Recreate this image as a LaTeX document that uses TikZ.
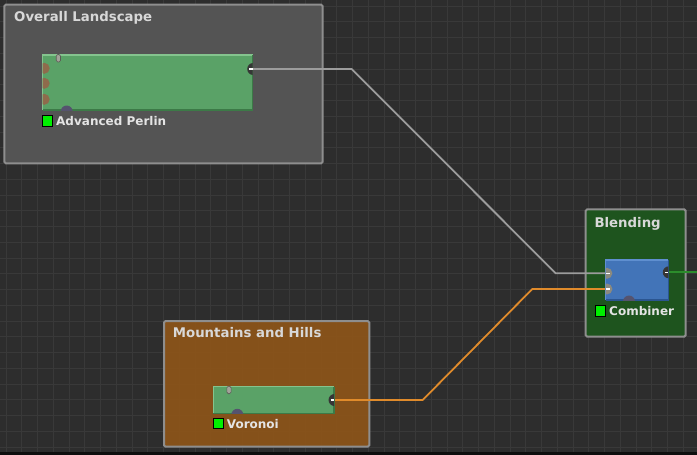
\documentclass[tikz,border=0pt]{standalone}
\usepackage{fontspec}
\setmainfont{DejaVu Sans}
\usetikzlibrary{calc}
\definecolor{bg}{HTML}{2D2D2D}
\definecolor{gridc}{HTML}{393939}
\definecolor{grpborder}{HTML}{8E8E8E}
\definecolor{grpgray}{HTML}{575757}
\definecolor{grpgreen}{HTML}{1D571D}
\definecolor{grporange}{HTML}{8C5419}
\definecolor{modgreen}{HTML}{5AA267}
\definecolor{modgreenlt}{HTML}{84C48E}
\definecolor{modgreendk}{HTML}{3C7A47}
\definecolor{modblue}{HTML}{4274B8}
\definecolor{modbluelt}{HTML}{5F8FD0}
\definecolor{modbluedk}{HTML}{2B5590}
\definecolor{portbrown}{HTML}{8E6B4C}
\definecolor{portgray}{HTML}{8C8A7E}
\definecolor{portdark}{HTML}{363636}
\definecolor{portpurple}{HTML}{55536E}
\definecolor{porttab}{HTML}{A3A39A}
\definecolor{wiregray}{HTML}{9C9C9C}
\definecolor{wireorange}{HTML}{E08B2B}
\definecolor{wiregreen}{HTML}{2C8C2C}
\definecolor{titletext}{HTML}{D8D8D8}
\definecolor{labeltext}{HTML}{E4E4E4}
\definecolor{flaggreen}{HTML}{00F000}
\tikzset{
  gridline/.style={draw=gridc, line width=1pt},
  groupbox/.style={draw=grpborder, line width=2pt, rounded corners=1.5pt, fill opacity=0.93, inner sep=0pt, outer sep=0pt, anchor=north west},
  grouptitle/.style={anchor=base west, inner sep=0pt, text=titletext, font=\fontsize{13.3}{15}\selectfont\bfseries},
  modulebox/.style={inner sep=0pt, outer sep=0pt, anchor=north west},
  modlabel/.style={anchor=base west, inner sep=0pt, text=labeltext, font=\fontsize{12}{14}\selectfont\bfseries},
  flagbox/.style={draw=black, line width=1pt, fill=flaggreen, minimum width=10.5pt, minimum height=10.5pt, inner sep=0pt},
  wire/.style={line width=1.8pt, line join=miter},
  tabport/.style={fill=porttab, draw=black!45!porttab, line width=0.6pt, rounded corners=1.5pt},
}
\begin{document}
\begin{tikzpicture}[x=1pt,y=-1pt]
\useasboundingbox (0,0) rectangle (697,455);
\fill[bg] (0,0) rectangle (697,455);
\foreach \k in {0,...,44} \draw[gridline] ({6+15.75*\k},0) -- ({6+15.75*\k},455);
\foreach \k in {0,...,28} \draw[gridline] (0,{6+15.75*\k}) -- (697,{6+15.75*\k});
\fill[black!70!bg] (0,452) rectangle (697,455);

% groups
\node[groupbox, fill=grpgray, minimum width=318.4pt, minimum height=158.6pt] (landscape) at (4.3,4.7) {};
\node[groupbox, fill=grpgreen, minimum width=100pt, minimum height=127.4pt] (blending) at (585.7,209.3) {};
\node[groupbox, fill=grporange, minimum width=205.3pt, minimum height=125.7pt] (mountains) at (164,321) {};
\node[grouptitle] (landscapetitle) at (14,21.7) {Overall Landscape};
\node[grouptitle] (blendingtitle) at (594.3,227.3) {Blending};
\node[grouptitle] (mountainstitle) at (172.7,337.7) {Mountains and Hills};

% modules
\node[modulebox, fill=modgreen, minimum width=210pt, minimum height=55pt] (perlin) at (42.7,55) {};
\node[modulebox, fill=modgreen, minimum width=120.7pt, minimum height=26.6pt] (voronoi) at (213.3,386.7) {};
\node[modulebox, fill=modblue, minimum width=62.6pt, minimum height=40pt] (combiner) at (605.7,260) {};

% port coordinates
\coordinate (perlinout) at ($(perlin.north east)+(0,14)$);
\coordinate (voronoiout) at ($(voronoi.north east)+(0,13.3)$);
\coordinate (combinerinA) at ($(combiner.north west)+(0,13.3)$);
\coordinate (combinerinB) at ($(combiner.north west)+(0,29)$);
\coordinate (combinerout) at ($(combiner.north east)+(0,12.3)$);
\coordinate (outend) at (697,272.3);

% wires
\draw[wire, wiregray] (perlinout) -- ++(99,0) -- ($(combinerinA)+(-50,0)$) -- (combinerinA);
\draw[wire, wireorange] (voronoiout) -- ++(88.7,0) -- ($(combinerinB)+(-73.4,0)$) -- (combinerinB);
\draw[wire, wiregreen] (combinerout) -- (outend);

% bevels
\foreach \m in {perlin,voronoi} {
  \draw[modgreenlt, line width=1.2pt] (\m.south west) -- (\m.north west) -- (\m.north east);
  \draw[modgreendk, line width=1.5pt] (\m.north east) -- (\m.south east) -- (\m.south west);
}
\draw[modbluelt, line width=1.2pt] (combiner.south west) -- (combiner.north west) -- (combiner.north east);
\draw[modbluedk, line width=1.5pt] (combiner.north east) -- (combiner.south east) -- (combiner.south west);

% ports on perlin
\begin{scope}
\clip (perlin.south west) rectangle (perlin.north east);
\foreach \d in {13.3,28.3,44.3} \fill[portbrown] ($(perlin.north west)+(1.5,\d)$) circle[radius=5.5pt];
\fill[portpurple] ($(perlin.south west)+(24,1.5)$) circle[radius=6pt];
\fill[portdark] ($(perlinout)+(0.5,0)$) circle[radius=6pt];
\end{scope}
\fill[tabport] ($(perlin.north west)+(13.5,-0.5)$) rectangle ($(perlin.north west)+(17.8,7)$);
\draw[white, line width=1.2pt] ($(perlinout)+(-3.5,0)$) -- (perlinout);

% ports on voronoi
\begin{scope}
\clip (voronoi.south west) rectangle (voronoi.north east);
\fill[portpurple] ($(voronoi.south west)+(24,1.5)$) circle[radius=6pt];
\fill[portdark] ($(voronoiout)+(0.5,0)$) circle[radius=6pt];
\end{scope}
\fill[tabport] ($(voronoi.north west)+(13.5,-0.5)$) rectangle ($(voronoi.north west)+(17.8,7)$);
\draw[white, line width=1.2pt] ($(voronoiout)+(-3.5,0)$) -- (voronoiout);

% ports on combiner
\begin{scope}
\clip (combiner.south west) rectangle (combiner.north east);
\fill[portgray] ($(combinerinA)+(1.2,0)$) circle[radius=5.5pt];
\fill[portgray] ($(combinerinB)+(1.2,0)$) circle[radius=5.5pt];
\fill[portpurple] ($(combiner.south west)+(23.3,1.5)$) circle[radius=6pt];
\fill[portdark] ($(combinerout)+(0.5,0)$) circle[radius=6pt];
\end{scope}
\draw[white, line width=1.2pt] (combinerinA) -- ++(4.5,0);
\draw[white, line width=1.2pt] (combinerinB) -- ++(4.5,0);
\draw[white, line width=1.2pt] ($(combinerout)+(-3.5,0)$) -- (combinerout);

% labels
\node[flagbox] (perlinflag) at (47.5,121.2) {};
\node[modlabel] (perlinlabel) at (56,125.5) {Advanced Perlin};
\node[flagbox] (combinerflag) at (600.5,311) {};
\node[modlabel] (combinerlabel) at (609,315) {Combiner};
\node[flagbox] (voronoiflag) at (218.3,423.5) {};
\node[modlabel] (voronoilabel) at (226.7,428.5) {Voronoi};
\end{tikzpicture}
\end{document}
